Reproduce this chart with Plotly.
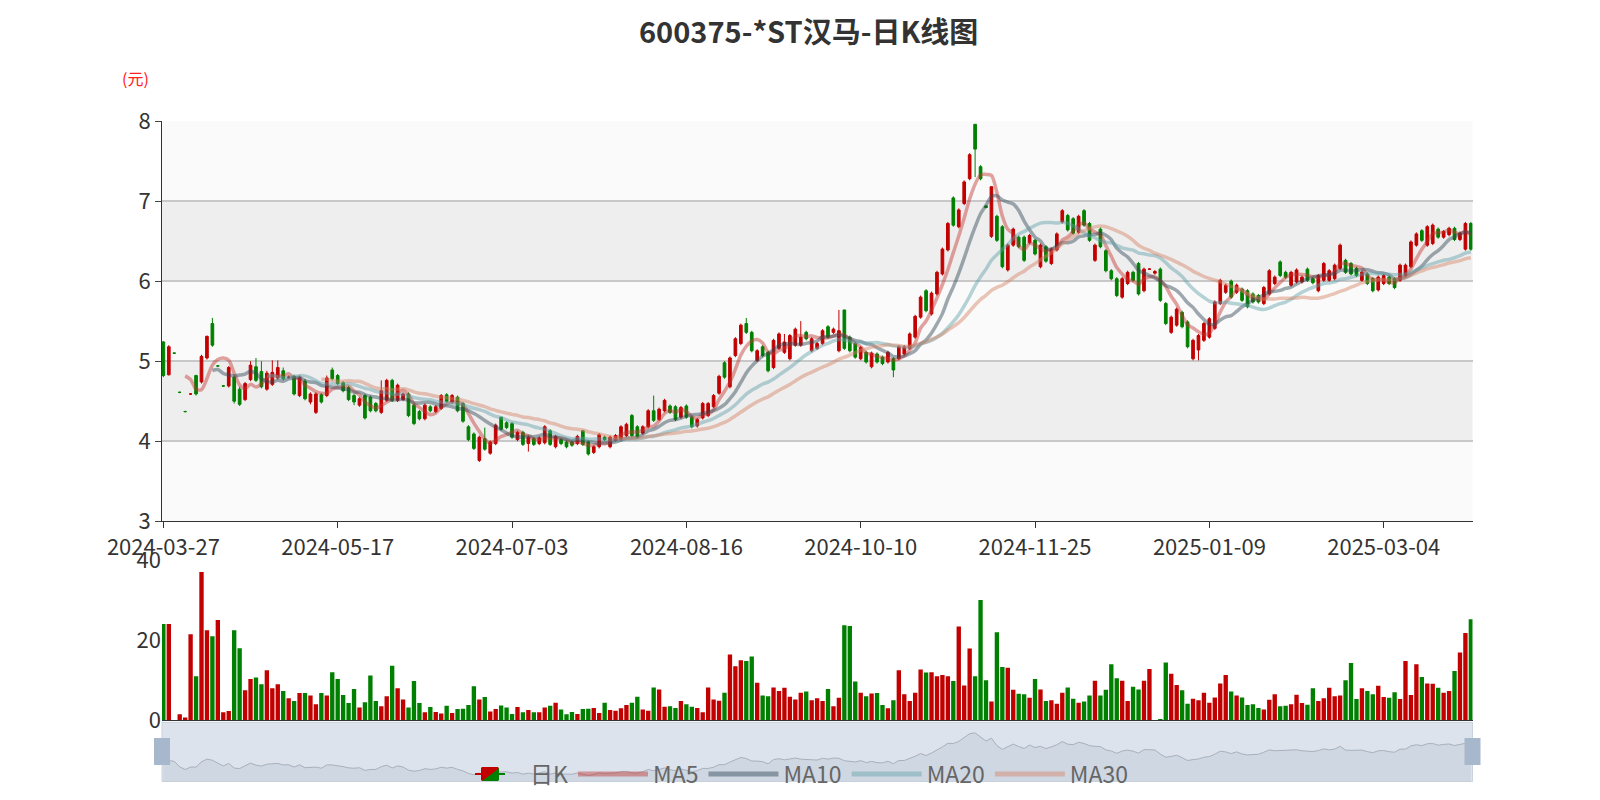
import plotly.graph_objects as go
import pandas as pd

# daily K data (yuan)
opens = [5.24, 4.83, 5.10, 4.61, 4.37, 4.59, 4.82, 4.74, 5.04, 5.47,
         4.94, 4.69, 4.69, 4.80, 4.65, 4.52, 4.77, 4.93, 4.87, 4.65,
         4.71, 4.79, 4.88, 4.80, 4.81, 4.57, 4.75, 4.49, 4.36, 4.58,
         4.57, 4.89, 4.82, 4.73, 4.67, 4.57, 4.45, 4.57, 4.55, 4.47,
         4.36, 4.51, 4.76, 4.51, 4.52, 4.59, 4.45, 4.37, 4.28, 4.43,
         4.37, 4.41, 4.58, 4.49, 4.55, 4.47, 4.18, 4.09, 3.76,
         4.03, 3.85, 3.97, 4.30, 4.23, 4.22, 4.02, 4.11, 3.97, 4.03,
         3.97, 3.98, 4.13, 3.93, 4.02, 3.99, 3.99, 3.97, 4.13, 3.99,
         3.86, 3.93, 4.05, 3.93, 4.01, 4.02, 4.07, 4.32, 4.18, 4.10,
         4.18, 4.38, 4.27, 4.38, 4.44, 4.43, 4.30, 4.44, 4.30, 4.19,
         4.29, 4.32, 4.43, 4.60, 4.98, 4.68, 5.07, 5.22, 5.47, 5.36,
         5.01, 5.18, 5.11, 4.92, 5.16, 5.11, 5.03, 5.20, 5.20, 5.36,
         5.13, 5.16, 5.22, 5.43, 5.36, 5.13, 5.64, 5.30, 5.22, 5.03,
         5.11, 4.93, 5.09, 5.05, 4.99, 5.03, 5.03, 5.09, 5.16, 5.30,
         5.55, 5.88, 5.59, 5.84, 6.09, 6.39, 7.04, 6.68, 6.97, 7.28,
         7.96, 7.43, 6.94, 6.56, 6.81, 6.68, 6.14, 6.45, 6.55, 6.55,
         6.48, 6.51, 6.18, 6.43, 6.22, 6.39, 6.74, 6.82, 6.78, 6.61,
         6.88, 6.72, 6.26, 6.65, 6.38, 6.13, 6.03,
         5.80, 5.97, 6.11, 6.22, 5.88, 6.15, 6.10, 6.15, 5.72, 5.36,
         5.45, 5.61, 5.49, 5.03, 5.14, 5.26, 5.30, 5.41, 5.72, 5.86,
         6.00, 5.86, 5.90, 5.88, 5.84, 5.82, 5.72, 5.84, 5.97, 6.24,
         6.11, 5.95, 5.99, 5.99, 6.15, 6.03, 5.88, 6.01, 6.01, 6.03,
         6.16, 6.26, 6.22, 6.16, 6.01, 6.09, 6.03, 5.89, 5.97, 6.05,
         6.03, 6.01, 6.07, 6.18, 6.45, 6.63, 6.45, 6.47, 6.65, 6.55,
         6.58, 6.66, 6.52, 6.40, 6.72]
closes = [4.82, 5.18, 5.10, 4.61, 4.37, 4.59, 4.59, 5.06, 5.31, 5.20,
          4.94, 4.69, 4.92, 4.50, 4.46, 4.72, 4.95, 4.76, 4.68, 4.85,
          4.86, 4.92, 4.78, 4.80, 4.59, 4.80, 4.53, 4.59, 4.59, 4.49,
          4.79, 4.78, 4.72, 4.63, 4.52, 4.49, 4.53, 4.29, 4.38, 4.38,
          4.63, 4.76, 4.51, 4.70, 4.59, 4.32, 4.22, 4.28, 4.45, 4.38,
          4.43, 4.57, 4.50, 4.57, 4.38, 4.25, 4.02, 3.91, 4.05,
          3.90, 3.99, 4.20, 4.15, 4.17, 4.05, 4.11, 3.96, 4.05, 3.96,
          4.04, 4.18, 3.96, 4.06, 3.97, 3.93, 3.95, 4.06, 3.96, 3.84,
          3.93, 4.08, 4.02, 4.05, 4.07, 4.18, 4.21, 4.07, 4.05, 4.18,
          4.38, 4.26, 4.40, 4.51, 4.36, 4.27, 4.42, 4.30, 4.18, 4.27,
          4.47, 4.47, 4.57, 4.81, 4.80, 5.04, 5.28, 5.45, 5.36, 5.13,
          5.13, 5.07, 4.88, 5.26, 5.34, 5.24, 5.32, 5.40, 5.30, 5.28,
          5.28, 5.22, 5.38, 5.30, 5.40, 5.38, 5.16, 5.13, 5.05, 5.17,
          4.99, 5.10, 4.99, 4.97, 5.11, 4.89, 5.18, 5.18, 5.34, 5.56,
          5.80, 5.63, 5.85, 6.11, 6.40, 6.72, 6.70, 6.89, 7.24, 7.58,
          7.65, 7.28, 6.92, 7.18, 6.51, 6.18, 6.45, 6.65, 6.43, 6.26,
          6.57, 6.34, 6.45, 6.25, 6.40, 6.59, 6.88, 6.64, 6.60, 6.81,
          6.70, 6.51, 6.45, 6.43, 6.13, 6.03, 5.82,
          6.03, 6.11, 6.01, 5.84, 6.15, 6.15, 6.12, 5.76, 5.47, 5.55,
          5.65, 5.43, 5.18, 5.26, 5.32, 5.47, 5.53, 5.74, 6.01, 5.95,
          5.80, 5.95, 5.76, 5.68, 5.74, 5.74, 5.92, 6.13, 6.05, 6.07,
          6.05, 6.11, 6.14, 6.05, 6.01, 5.98, 6.07, 6.22, 6.13, 6.20,
          6.45, 6.11, 6.09, 6.07, 6.11, 5.97, 5.88, 6.05, 6.07, 5.97,
          5.92, 6.20, 6.20, 6.49, 6.59, 6.51, 6.68, 6.70, 6.55, 6.62,
          6.66, 6.52, 6.60, 6.72, 6.40]
highs = [5.25, 5.20, 5.11, 4.62, 4.38, 4.60, 4.83, 5.08, 5.32, 5.54,
         4.95, 4.70, 4.94, 4.82, 4.68, 4.74, 5.00, 5.04, 5.00, 4.88,
         5.01, 5.01, 4.92, 4.82, 4.83, 4.82, 4.78, 4.61, 4.61, 4.60,
         4.82, 4.92, 4.84, 4.75, 4.69, 4.59, 4.55, 4.59, 4.57, 4.49,
         4.76, 4.78, 4.78, 4.72, 4.61, 4.61, 4.47, 4.39, 4.47, 4.45,
         4.45, 4.59, 4.60, 4.59, 4.57, 4.49, 4.20, 4.11, 4.07,
         4.17, 4.01, 4.22, 4.30, 4.25, 4.24, 4.13, 4.13, 4.07, 4.05,
         4.06, 4.20, 4.15, 4.08, 4.04, 4.01, 4.01, 4.08, 4.14, 4.01,
         3.95, 4.10, 4.07, 4.07, 4.09, 4.20, 4.23, 4.34, 4.20, 4.20,
         4.40, 4.57, 4.42, 4.53, 4.46, 4.45, 4.44, 4.46, 4.32, 4.29,
         4.49, 4.49, 4.59, 4.83, 5.00, 5.06, 5.30, 5.47, 5.54, 5.38,
         5.15, 5.20, 5.13, 5.28, 5.36, 5.34, 5.34, 5.42, 5.50, 5.38,
         5.30, 5.24, 5.40, 5.45, 5.42, 5.64, 5.64, 5.32, 5.24, 5.19,
         5.13, 5.12, 5.11, 5.07, 5.13, 5.05, 5.20, 5.20, 5.36, 5.58,
         5.82, 5.90, 5.87, 6.13, 6.42, 6.74, 7.06, 6.91, 7.26, 7.60,
         7.96, 7.45, 6.95, 7.18, 6.83, 6.70, 6.47, 6.67, 6.57, 6.57,
         6.59, 6.53, 6.47, 6.45, 6.42, 6.61, 6.90, 6.84, 6.80, 6.83,
         6.90, 6.74, 6.47, 6.67, 6.40, 6.15, 6.05,
         6.05, 6.13, 6.13, 6.24, 6.17, 6.16, 6.14, 6.17, 5.74, 5.57,
         5.67, 5.63, 5.51, 5.28, 5.34, 5.49, 5.55, 5.76, 6.03, 5.97,
         6.02, 5.97, 5.92, 5.90, 5.86, 5.84, 5.94, 6.15, 6.07, 6.26,
         6.13, 6.13, 6.16, 6.07, 6.17, 6.05, 6.09, 6.24, 6.15, 6.22,
         6.47, 6.28, 6.24, 6.18, 6.13, 6.11, 6.05, 6.07, 6.09, 6.07,
         6.05, 6.22, 6.22, 6.51, 6.61, 6.65, 6.70, 6.72, 6.67, 6.64,
         6.68, 6.68, 6.62, 6.74, 6.74]
lows = [4.80, 4.82, 5.09, 4.60, 4.36, 4.58, 4.57, 4.72, 5.02, 5.18,
        4.93, 4.68, 4.67, 4.47, 4.44, 4.50, 4.75, 4.74, 4.66, 4.63,
        4.69, 4.77, 4.76, 4.78, 4.57, 4.55, 4.51, 4.46, 4.34, 4.47,
        4.55, 4.76, 4.70, 4.61, 4.50, 4.45, 4.43, 4.27, 4.36, 4.36,
        4.34, 4.49, 4.49, 4.49, 4.50, 4.30, 4.20, 4.26, 4.26, 4.36,
        4.35, 4.39, 4.48, 4.47, 4.36, 4.23, 4.00, 3.89, 3.74,
        3.88, 3.83, 3.95, 4.13, 4.15, 4.03, 4.00, 3.94, 3.87, 3.94,
        3.95, 3.96, 3.94, 3.91, 3.95, 3.91, 3.93, 3.95, 3.94, 3.82,
        3.84, 3.91, 4.00, 3.91, 3.99, 4.00, 4.05, 4.05, 4.03, 4.08,
        4.16, 4.24, 4.25, 4.36, 4.34, 4.25, 4.28, 4.28, 4.16, 4.17,
        4.27, 4.30, 4.41, 4.58, 4.78, 4.66, 5.05, 5.20, 5.34, 5.11,
        4.99, 5.05, 4.86, 4.90, 5.14, 5.09, 5.01, 5.18, 5.18, 5.26,
        5.11, 5.14, 5.20, 5.28, 5.34, 5.11, 5.14, 5.11, 5.03, 5.01,
        4.97, 4.91, 4.97, 4.95, 4.97, 4.80, 5.01, 5.07, 5.14, 5.28,
        5.53, 5.61, 5.57, 5.82, 6.07, 6.37, 6.68, 6.66, 6.95, 7.26,
        7.30, 7.26, 6.91, 6.54, 6.49, 6.16, 6.12, 6.43, 6.41, 6.24,
        6.46, 6.32, 6.16, 6.23, 6.20, 6.37, 6.72, 6.62, 6.58, 6.59,
        6.68, 6.49, 6.24, 6.41, 6.11, 6.01, 5.80,
        5.78, 5.95, 5.99, 5.82, 5.86, 6.14, 6.08, 5.74, 5.45, 5.34,
        5.43, 5.41, 5.16, 5.01, 5.01, 5.24, 5.28, 5.39, 5.70, 5.84,
        5.78, 5.84, 5.74, 5.66, 5.72, 5.72, 5.70, 5.82, 5.95, 6.05,
        6.03, 5.93, 5.97, 5.97, 5.99, 5.96, 5.86, 5.99, 5.99, 6.01,
        6.14, 6.09, 6.07, 6.05, 5.99, 5.95, 5.86, 5.87, 5.95, 5.95,
        5.90, 5.99, 6.05, 6.16, 6.43, 6.49, 6.43, 6.45, 6.53, 6.53,
        6.56, 6.50, 6.50, 6.38, 6.38]
# volume (10k lots)
volumes = [24, 24, 0, 1.5, 0.7, 21.5, 11, 37, 22.5, 21,
           25, 2, 2.3, 22.5, 18, 7.5, 10.3, 10.7, 9, 12.5,
           8, 9, 7.3, 5.5, 4.8, 6.8, 6.8, 6.2, 4, 6.8,
           6.2, 12, 10.3, 6.3, 4.3, 7.8, 3.2, 4.5, 11.2, 4.8,
           3.5, 6, 13.6, 8, 5.2, 3.2, 9.8, 4.3, 2, 3.3,
           2.1, 1.7, 3.6, 1.8, 2.8, 2.9, 3.8, 8.5, 5.2, 5.8,
           2.2, 2.8, 3.7, 3.2, 1.6, 3.3, 2, 2.6, 2, 2,
           3.2, 3.6, 4.4, 2.7, 1.5, 2.1, 1.6, 2.8, 2.9, 3.1,
           1.8,
           4.4, 2.6, 2.4, 3.0, 3.8, 4.4, 5.9, 2.7, 2.4, 8.2,
           7.7, 3.4, 3.5, 3.1, 4.8, 4.0, 3.4, 3.1, 2.0, 8.2,
           5.2, 4.9, 6.9, 16.4, 13.5, 15.0, 14.8, 15.9, 9.4, 6.2,
           6.0, 8.2, 7.3, 8.1, 5.9, 5.2, 6.9, 7.2, 5.0, 5.5,
           4.8, 7.8, 3.5, 5.6, 23.7, 23.5, 9.7, 6.9, 6.0, 6.7,
           6.8, 3.8, 3.0, 5.0, 12.5, 6.5, 4.8, 6.9, 12.7, 11.9,
           12.0, 11.0, 11.3, 11.0, 9.8, 23.4, 8.7, 17.9, 11.0, 30.0,
           10.0, 4.7, 22.0, 13.3, 13.1, 7.6, 6.6, 6.5, 5.6, 10.3,
           7.7,
           4.8, 5.0, 4.1, 6.9, 8.2, 5.4, 4.4, 4.7, 6.2, 9.9,
           6.2, 7.6, 14.0, 10.5, 9.9, 4.8, 8.4, 7.7, 9.9, 12.8,
           0, 0.3, 14.4, 11.6, 8.8, 7.5, 4.1, 5.4, 5.0, 6.9,
           4.4, 5.7, 9.2, 11.3, 7.2, 6.2, 5.7, 3.8, 4.0, 3.1,
           2.7, 5.1, 6.5, 3.5, 3.6, 4.0, 6.4, 4.3, 3.9, 8.0,
           4.8, 5.5, 8.1, 6.0, 6.2, 10.0, 14.3, 5.3, 8.0, 7.3,
           6.5, 8.6, 5.8, 5.6, 7.0, 5.3, 14.8, 6.3, 14.0, 10.8,
           9.2, 9.1, 8.1, 6.9, 7.3, 12.3, 16.9, 21.8, 25.2]
tick_labels = ['2024-03-27', '2024-05-17', '2024-07-03', '2024-08-16',
               '2024-10-10', '2024-11-25', '2025-01-09', '2025-03-04']
tick_pos = [0, 32, 64, 96, 128, 160, 192, 224]

n = min(len(opens), len(closes), len(highs), len(lows), len(volumes))
df = pd.DataFrame({'open': opens[:n], 'close': closes[:n], 'high': highs[:n],
                   'low': lows[:n], 'vol': volumes[:n]})
df['i'] = range(n)

UP, DOWN = '#c20000', '#008000'
ma_colors = {5: '#c23531', 10: '#2f4554', 20: '#61a0a8', 30: '#d48265'}

fig = go.Figure()

fig.add_trace(go.Candlestick(
    x=df['i'], open=df['open'], high=df['high'], low=df['low'], close=df['close'],
    name='日K', increasing=dict(line=dict(color=UP, width=1), fillcolor=UP),
    decreasing=dict(line=dict(color=DOWN, width=1), fillcolor=DOWN),
    whiskerwidth=0, xaxis='x', yaxis='y'))

for w, c in ma_colors.items():
    fig.add_trace(go.Scatter(
        x=df['i'], y=df['close'].rolling(w).mean(), mode='lines', name='MA%d' % w,
        line=dict(color=c, width=3.5, shape='spline', smoothing=0.8), opacity=0.45,
        xaxis='x', yaxis='y', hoverinfo='skip'))

vol_colors = [UP if c >= o else DOWN for o, c in zip(df['open'], df['close'])]
fig.add_trace(go.Bar(x=df['i'], y=df['vol'], marker=dict(color=vol_colors, line_width=0),
                     width=0.8, showlegend=False, xaxis='x2', yaxis='y2'))

fig.add_trace(go.Scatter(x=df['i'], y=df['close'], mode='lines', fill='tozeroy',
                         line=dict(color='#a8b0bc', width=1), fillcolor='rgba(190,200,214,0.45)',
                         showlegend=False, xaxis='x3', yaxis='y3', hoverinfo='skip'))

xr = [-0.25, n - 0.7]
xdom = [154 / 1600, 1464.5 / 1600]
tickfont = dict(size=22, color='#333')

def py(y):
    return 1 - y / 800

# alternating bands in price panel
for lo, hi, col in [(3, 4, '#fafafa'), (4, 5, '#eeeeee'), (5, 6, '#fafafa'),
                    (6, 7, '#eeeeee'), (7, 8, '#fafafa')]:
    fig.add_shape(type='rect', xref='x domain', yref='y', x0=0, x1=1, y0=lo, y1=hi,
                  fillcolor=col, line_width=0, layer='below')
# slider background and handles
fig.add_shape(type='rect', xref='paper', yref='paper', x0=xdom[0], x1=xdom[1],
              y0=py(773.5), y1=py(714.3), fillcolor='#dce3ec',
              line=dict(color='#c9d2dd', width=1), layer='below')
for xp in [xdom[0], xdom[1]]:
    fig.add_shape(type='rect', xref='paper', yref='paper', x0=xp - 0.005, x1=xp + 0.005,
                  y0=py(757), y1=py(730), fillcolor='#a7b7cc', line_width=0)

fig.update_layout(
    width=1600, height=800, margin=dict(l=0, r=0, t=0, b=0, autoexpand=False),
    paper_bgcolor='white', plot_bgcolor='rgba(0,0,0,0)',
    font=dict(family='Noto Sans CJK SC, Noto Sans, sans-serif'),
    xaxis=dict(domain=xdom, range=xr, tickvals=tick_pos, ticktext=tick_labels,
               tickfont=tickfont, showgrid=False, showline=True, linecolor='#333',
               ticks='outside', ticklen=6, tickcolor='#333', rangeslider=dict(visible=False),
               anchor='y', zeroline=False, automargin=False),
    yaxis=dict(domain=[py(513.2), py(113.1)], range=[3, 8], dtick=1,
               tickfont=tickfont, gridcolor='#c8c8c8', gridwidth=1.5, showline=True,
               linecolor='#333', ticks='outside', ticklen=6, zeroline=False, anchor='x',
               automargin=False),
    xaxis2=dict(domain=xdom, range=xr, showticklabels=False, showgrid=False,
                showline=True, linecolor='#333', anchor='y2', zeroline=False, automargin=False),
    yaxis2=dict(domain=[py(712.3), py(552)], range=[0, 40], tickvals=[0, 20, 40],
                tickfont=tickfont, showgrid=False, zeroline=False, anchor='x2',
                automargin=False),
    xaxis3=dict(domain=xdom, range=xr, visible=False, anchor='y3'),
    yaxis3=dict(domain=[py(773.5), py(714.3)], range=[3.3, 8.6], visible=False,
                anchor='x3'),
    legend=dict(orientation='h', x=0.49, xanchor='center', y=py(766), yanchor='middle',
                font=dict(size=23, color='#666'), bgcolor='rgba(0,0,0,0)',
                itemwidth=70, itemsizing='constant', tracegroupgap=0),
    showlegend=True,
)

fig.add_annotation(text='<b>600375-*ST汉马-日K线图</b>', xref='paper', yref='paper',
                   x=0.5, y=py(22), yanchor='middle', showarrow=False,
                   font=dict(size=29, color='#333'))
fig.add_annotation(text='(元)', xref='paper', yref='paper', x=112 / 1600, y=py(70),
                   yanchor='middle', showarrow=False, font=dict(size=16, color='#ff2020'))

fig.write_html("out.html")
